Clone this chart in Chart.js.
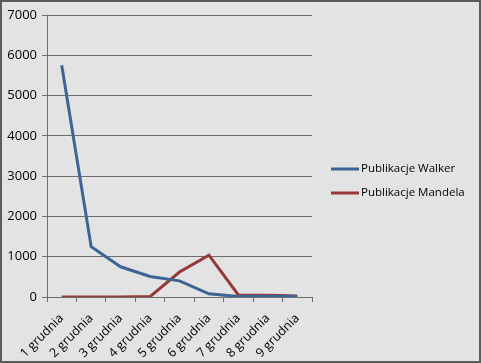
<!DOCTYPE html>
<html>
<head>
<meta charset="utf-8">
<script src="https://cdn.jsdelivr.net/npm/chart.js@4.4.0/dist/chart.umd.min.js"></script>
<style>
  html, body { margin: 0; padding: 0; background: #e3e3e3; }
  #wrap { width: 481px; height: 363px; }
</style>
</head>
<body>
<div id="wrap"><canvas id="myLineChart" width="481" height="363"></canvas></div>
<script>
const days = ["1 grudnia", "2 grudnia", "3 grudnia", "4 grudnia", "5 grudnia", "6 grudnia", "7 grudnia", "8 grudnia", "9 grudnia"];
const walker = [5750, 1250, 750, 510, 400, 80, 10, 20, 10];
const mandela = [0, 0, 0, 10, 620, 1040, 50, 45, 25];
const yTicks = [0, 1000, 2000, 3000, 4000, 5000, 6000, 7000];

const fontFamily = "'Open Sans', 'DejaVu Sans', sans-serif";

// background + dark frame round the whole picture
const frame = {
  id: "frame",
  beforeDraw(chart) {
    const { ctx, width, height } = chart;
    ctx.save();
    ctx.fillStyle = "#e3e3e3";
    ctx.fillRect(0, 0, width, height);
    ctx.strokeStyle = "#5c5c5c";
    ctx.lineWidth = 2;
    ctx.strokeRect(1, 1, width - 2, height - 2);
    ctx.restore();
  },
};

// the built-in legend is squeezed to half the free width, so draw it here
const sideLegend = {
  id: "sideLegend",
  afterDraw(chart) {
    const { ctx, chartArea } = chart;
    const x = chartArea.right + 19;
    let y = 169;
    ctx.save();
    ctx.font = `11.5px ${fontFamily}`;
    ctx.textBaseline = "middle";
    ctx.textAlign = "left";
    chart.data.datasets.forEach((ds) => {
      ctx.strokeStyle = ds.borderColor;
      ctx.lineWidth = 3;
      ctx.beginPath();
      ctx.moveTo(x, y);
      ctx.lineTo(x + 28, y);
      ctx.stroke();
      ctx.fillStyle = "#000000";
      ctx.fillText(ds.label, x + 30, y);
      y += 24;
    });
    ctx.restore();
  },
};

Chart.defaults.font.family = fontFamily;
Chart.defaults.font.size = 12;
Chart.defaults.color = "#000000";

const lineCtx = document.getElementById("myLineChart").getContext("2d");
const myLineChart = new Chart(lineCtx, {
  type: "line",
  data: {
    labels: days,
    datasets: [
      {
        label: "Publikacje Walker",
        data: walker,
        borderColor: "#3c6595",
        backgroundColor: "#3c6595",
        borderWidth: 3,
        pointRadius: 0,
        tension: 0,
      },
      {
        label: "Publikacje Mandela",
        data: mandela,
        borderColor: "#953837",
        backgroundColor: "#953837",
        borderWidth: 3,
        pointRadius: 0,
        tension: 0,
      },
    ],
  },
  options: {
    responsive: false,
    animation: false,
    layout: {
      padding: { left: 0, top: 15, right: 169, bottom: 0 },
    },
    scales: {
      x: {
        offset: true,
        afterFit(scale) {
          scale.height = 66;
        },
        grid: {
          offset: true,
          drawOnChartArea: false,
          drawTicks: true,
          tickLength: 5,
          color: "#6e6e6e",
        },
        border: { color: "#6e6e6e" },
        ticks: {
          minRotation: 45,
          maxRotation: 45,
          autoSkip: false,
          padding: 9,
          font: { size: 12.5 },
        },
      },
      y: {
        min: 0,
        max: 7000,
        afterBuildTicks(scale) {
          scale.ticks = yTicks.map((v) => ({ value: v }));
        },
        afterFit(scale) {
          scale.width = 47;
        },
        grid: {
          color: "#6e6e6e",
          tickLength: 5,
        },
        border: { color: "#6e6e6e" },
        ticks: {
          padding: 5,
          font: { size: 13 },
          callback: (v) => String(v),
        },
      },
    },
    plugins: {
      legend: { display: false },
      tooltip: { enabled: false },
    },
  },
  plugins: [frame, sideLegend],
});
</script>
</body>
</html>
